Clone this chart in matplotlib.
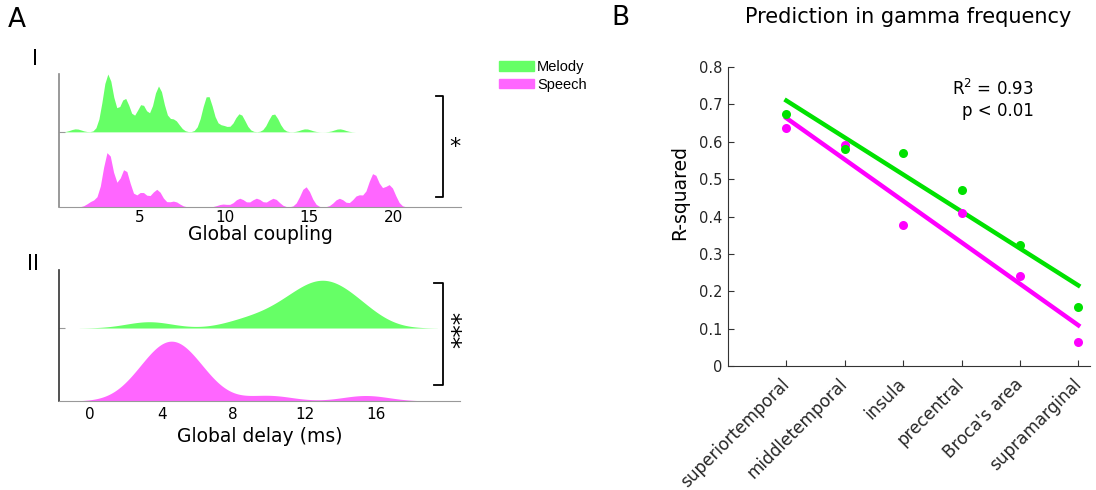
import numpy as np
import matplotlib.pyplot as plt
from matplotlib.patches import Patch

# ---- data ----
# A-I: best-fitting global coupling (value, number of fits)
melody_coupling_vals = [1.2, 3.1, 4.1, 5.1, 6.1, 7.0, 9.0, 9.9, 10.9, 12.9, 14.8, 16.8]
melody_coupling_cnt = [1, 19, 11, 9, 15, 4, 12, 2, 6, 6, 1, 1]
speech_coupling_vals = [2.2, 3.1, 4.1, 5.1, 6.0, 7.0, 9.9, 10.9, 11.9, 12.9, 14.8, 16.8, 17.9, 18.8, 19.3, 19.8]
speech_coupling_cnt = [2, 19, 13, 5, 6, 2, 1, 3, 3, 3, 7, 3, 4, 11, 2, 7]

# A-II: best-fitting global delay (ms)
melody_delay = [3.3, 8.6, 10.2, 11.0, 11.6, 12.1, 12.5, 12.8, 13.1, 13.4, 13.8, 14.3, 14.8, 15.5]
speech_delay = [2.7, 3.2, 3.5, 3.8, 4.1, 4.3, 4.5, 4.6, 4.8, 5.0, 5.3, 5.6, 5.9, 6.4,
                10.0, 15.4]

# B: prediction in gamma band per region
regions = ['superiortemporal', 'middletemporal', 'insula', 'precentral', "Broca's area", 'supramarginal']
melody_r2 = [0.675, 0.580, 0.571, 0.471, 0.323, 0.157]
speech_r2 = [0.636, 0.591, 0.376, 0.410, 0.241, 0.063]

GREEN_FILL = '#66ff66'
PINK_FILL = '#ff66ff'
GREEN = '#00e100'
PINK = '#ff00ff'

plt.rcParams['font.family'] = ['DejaVu Sans']


def kde(samples, bw, n=100):
    s = np.asarray(samples, dtype=float)
    grid = np.linspace(s.min() - 3 * bw, s.max() + 3 * bw, n)
    d = np.exp(-0.5 * ((grid[:, None] - s[None, :]) / bw) ** 2).sum(1)
    return grid, d / (len(s) * bw * np.sqrt(2 * np.pi))


def ridge(ax, dens, peak, top, xlim, xticks, xlabel, left_col, tick_pad, lab_pad):
    scale = peak / max(d.max() for _, d in dens)
    for (g, d), off, col in zip(dens, [1, 0], [GREEN_FILL, PINK_FILL]):
        ax.fill_between(g, off, off + d * scale, color=col, lw=0)
    ax.set_xlim(*xlim)
    ax.set_ylim(0, top)
    for s in ['top', 'right']:
        ax.spines[s].set_visible(False)
    ax.spines['left'].set_color(left_col)
    ax.spines['bottom'].set_color('#999999')
    ax.spines['left'].set_linewidth(1.2)
    ax.set_yticks([1])
    ax.set_yticklabels([])
    ax.tick_params(axis='y', direction='in', length=4, color='#999999')
    ax.set_xticks(xticks)
    ax.tick_params(axis='x', length=0, labelsize=11, pad=tick_pad)
    ax.set_xlabel(xlabel, fontsize=13.5, labelpad=lab_pad)


fig = plt.figure(figsize=(10.96, 4.9), dpi=100)

# ---- A-I ----
ax1 = fig.add_axes([59 / 1096, 1 - 207 / 490, 402 / 1096, 133 / 490])
m_samp = np.repeat(melody_coupling_vals, melody_coupling_cnt)
s_samp = np.repeat(speech_coupling_vals, speech_coupling_cnt)
ridge(ax1, [kde(m_samp, 0.31), kde(s_samp, 0.31)], 0.77, 1.77, (0.2, 24.0),
      [5, 10, 15, 20], 'Global coupling', '#888888', 2, 0)
ax1.plot([0.938, 0.955, 0.955, 0.938], [0.835, 0.835, 0.075, 0.075],
         color='black', lw=1.3, transform=ax1.transAxes, clip_on=False)
ax1.text(0.985, 0.45, '*', fontsize=16, ha='center', va='center', transform=ax1.transAxes)

# ---- A-II ----
ax2 = fig.add_axes([59 / 1096, 1 - 401 / 490, 401 / 1096, 131 / 490])
ridge(ax2, [kde(melody_delay, 1.3, 300), kde(speech_delay, 1.3, 300)], 0.82, 1.795, (-1.73, 20.67),
      [0, 4, 8, 12, 16], 'Global delay (ms)', '#333333', 4, 4)
ax2.plot([0.935, 0.958, 0.958, 0.935], [0.90, 0.90, 0.122, 0.122],
         color='black', lw=1.3, transform=ax2.transAxes, clip_on=False)
ax2.text(1.006, 0.545, '***', fontsize=18, rotation=90, ha='center', va='center',
         transform=ax2.transAxes)

# ---- B ----
ax3 = fig.add_axes([728 / 1096, 1 - 366 / 490, 362 / 1096, 299 / 490])
xs = np.arange(1, len(regions) + 1)
for vals, col in [(melody_r2, GREEN), (speech_r2, PINK)]:
    k, b = np.polyfit(xs, vals, 1)
    ax3.plot(xs[[0, -1]], k * xs[[0, -1]] + b, color=col, lw=3.2)
for vals, col in [(speech_r2, PINK), (melody_r2, GREEN)]:
    ax3.plot(xs, vals, 'o', color=col, ms=6.5, mec='none')
ax3.set_xlim(0, 6.2)
ax3.set_ylim(0, 0.8)
ax3.set_yticks(np.arange(0, 0.81, 0.1))
ax3.set_yticklabels(['0'] + ['%.1f' % v for v in np.arange(0.1, 0.81, 0.1)])
ax3.set_xticks(xs)
ax3.set_xticklabels(regions, rotation=45, ha='right', va='center', rotation_mode='anchor',
                    fontsize=12.2)
for s in ['top', 'right']:
    ax3.spines[s].set_visible(False)
for s in ['left', 'bottom']:
    ax3.spines[s].set_color('#333333')
ax3.tick_params(axis='both', direction='in', length=4, color='#333333', labelcolor='#262626')
ax3.tick_params(axis='y', labelsize=10.5, pad=4)
ax3.tick_params(axis='x', pad=11)
ax3.set_ylabel('R-squared', fontsize=13.5)
ax3.yaxis.set_label_coords(-0.108, 0.58)
ax3.text(0.845, 0.926, 'R$^{2}$ = 0.93', fontsize=12, ha='right', va='center', transform=ax3.transAxes)
ax3.text(0.845, 0.853, 'p < 0.01', fontsize=12, ha='right', va='center', transform=ax3.transAxes)

# ---- labels / legend ----
fig.text(908 / 1096, 1 - 17 / 490, 'Prediction in gamma frequency', fontsize=15, ha='center', va='center')
fig.text(17 / 1096, 1 - 20 / 490, 'A', fontsize=19, ha='center', va='center')
fig.text(620 / 1096, 1 - 18 / 490, 'B', fontsize=19, ha='center', va='center')
fig.text(35 / 1096, 1 - 59 / 490, 'I', fontsize=15, ha='center', va='center')
fig.text(33 / 1096, 1 - 264 / 490, 'II', fontsize=15, ha='center', va='center')
fig.legend(handles=[Patch(color=GREEN_FILL), Patch(color=PINK_FILL)], labels=['Melody', 'Speech'],
           loc='upper left', bbox_to_anchor=(499 / 1096, 1 - 60 / 490), frameon=False,
           prop={'family': 'Liberation Sans', 'size': 10.5}, handlelength=2.4, handleheight=0.65,
           handletextpad=0.2, labelspacing=0.25, borderpad=0, borderaxespad=0)

fig.savefig('out.png', dpi=100)
